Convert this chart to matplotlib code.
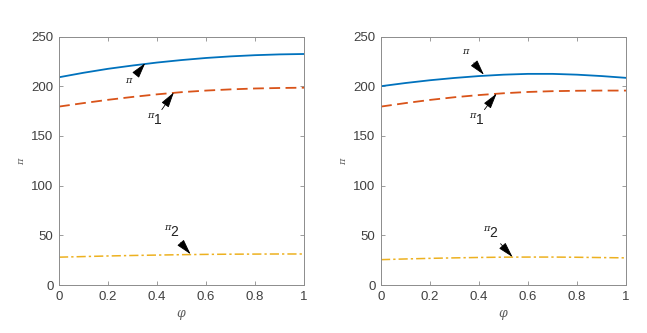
import matplotlib

matplotlib.use("Agg")
import matplotlib.pyplot as plt

phi = [0.0, 0.1, 0.2, 0.3, 0.4, 0.5, 0.6, 0.7, 0.8, 0.9, 1.0]

# left panel
left_pi = [209.0, 213.5, 217.5, 220.8, 223.8, 226.3, 228.4, 230.0, 231.2, 232.0, 232.4]
left_pi1 = [179.5, 183.0, 186.3, 189.2, 191.8, 194.0, 195.6, 196.8, 197.7, 198.2, 198.5]
left_pi2 = [28.0, 28.6, 29.2, 29.7, 30.1, 30.5, 30.8, 31.0, 31.1, 31.2, 31.2]

# right panel
right_pi = [200.0, 203.2, 206.0, 208.3, 210.2, 211.6, 212.4, 212.4, 211.6, 210.2, 208.4]
right_pi1 = [179.5, 183.0, 186.2, 188.9, 191.1, 192.9, 194.2, 195.0, 195.4, 195.6, 195.6]
right_pi2 = [25.5, 26.2, 26.8, 27.3, 27.7, 28.0, 28.1, 28.1, 27.9, 27.6, 27.3]

x_ticks = [0, 0.2, 0.4, 0.6, 0.8, 1]
x_tick_labels = ["0", "0.2", "0.4", "0.6", "0.8", "1"]
y_ticks = [0, 50, 100, 150, 200, 250]

# annotation labels, text positions and arrow tips (data coords)
left_notes = [
    (r"$^{\pi}$", (0.286, 203), (0.352, 223.2)),
    (r"$^{\pi}$1", (0.39, 166), (0.469, 193.8)),
    (r"$^{\pi}$2", (0.46, 53), (0.537, 31.0)),
]
right_notes = [
    (r"$^{\pi}$", (0.35, 232), (0.42, 211.5)),
    (r"$^{\pi}$1", (0.39, 166), (0.472, 192.6)),
    (r"$^{\pi}$2", (0.45, 52), (0.537, 28.1)),
]

BLUE = "#0072BD"
ORANGE = "#D95319"
YELLOW = "#EDB120"
TEXT = "#404040"
SPINE = "#8c8c8c"

plt.rcParams["font.family"] = ["Liberation Sans", "DejaVu Sans"]
plt.rcParams["mathtext.fontset"] = "dejavuserif"

fig = plt.figure(figsize=(6.47, 3.33), dpi=100)
ax_left = fig.add_axes([59 / 647, 48 / 333, 245 / 647, 248.5 / 333])
ax_right = fig.add_axes([381 / 647, 48 / 333, 245 / 647, 248.5 / 333])


def draw_panel(ax, pi, pi1, pi2, notes):
    ax.plot(phi, pi, color=BLUE, linewidth=1.3)
    ax.plot(phi, pi1, color=ORANGE, linewidth=1.3, linestyle=(0, (6, 3)))
    ax.plot(phi, pi2, color=YELLOW, linewidth=1.1, linestyle=(0, (6, 2, 1.5, 2)))
    for label, text_xy, tip_xy in notes:
        ax.annotate(
            label,
            xy=tip_xy,
            xytext=text_xy,
            fontsize=10,
            color="#222222",
            ha="center",
            va="center",
            arrowprops=dict(arrowstyle="-|>,head_length=0.8,head_width=0.22",
                            color="black", lw=0.6, mutation_scale=12,
                            shrinkA=0, shrinkB=0),
        )
    ax.set_xlim(0, 1)
    ax.set_ylim(0, 250)
    ax.set_xticks(x_ticks)
    ax.set_xticklabels(x_tick_labels)
    ax.set_yticks(y_ticks)
    ax.tick_params(direction="in", top=True, right=True, length=3, width=0.6,
                   colors=SPINE, labelcolor=TEXT, labelsize=9.5, pad=4)
    for spine in ax.spines.values():
        spine.set_color(SPINE)
        spine.set_linewidth(0.7)
    ax.set_xlabel(r"$\varphi$", fontsize=9, color="#606060", labelpad=4)
    ax.set_ylabel(r"$\pi$", fontsize=7, color="#606060", labelpad=4)


draw_panel(ax_left, left_pi, left_pi1, left_pi2, left_notes)
draw_panel(ax_right, right_pi, right_pi1, right_pi2, right_notes)

fig.savefig("out.png", dpi=100)
